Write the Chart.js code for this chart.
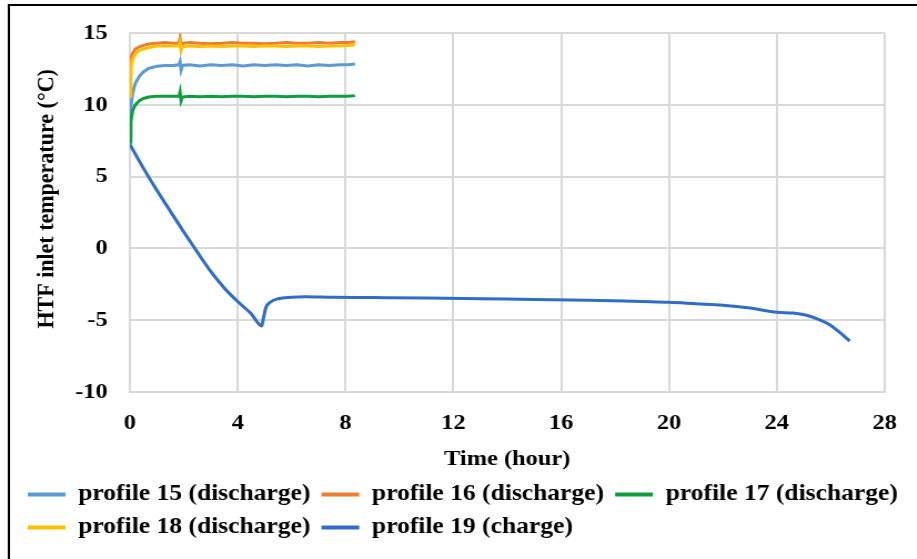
<!DOCTYPE html>
<html>
<head>
<meta charset="utf-8">
<script src="https://cdn.jsdelivr.net/npm/chart.js@4/dist/chart.umd.min.js"></script>
<style>
  html, body { margin: 0; padding: 0; background: #fff; overflow: hidden; }
  #wrap {
    position: relative;
    width: 826px;
    height: 559px;
    transform: scaleX(1.11);
    transform-origin: 0 0;
  }
</style>
</head>
<body>
<div id="wrap"><canvas id="tempChart"></canvas></div>
<script>
// time axis shared by the four discharge runs (hours)
const dischargeHours = [0, 0.03, 0.1, 0.2, 0.35, 0.5, 0.7, 1.0, 1.3, 1.6, 1.82, 1.86, 1.9, 1.95, 2.2, 2.6,
  3.0, 3.4, 3.8, 4.2, 4.6, 5.0, 5.4, 5.8, 6.2, 6.6, 7.0, 7.4, 7.8, 8.1, 8.35];

const profile15 = [7.8, 9.8, 10.8, 11.5, 12.0, 12.3, 12.55, 12.7, 12.75, 12.75, 12.8, 13.0, 12.45, 12.75, 12.8, 12.72,
  12.8, 12.75, 12.8, 12.72, 12.8, 12.75, 12.8, 12.75, 12.8, 12.72, 12.8, 12.75, 12.8, 12.8, 12.85];
const profile16 = [12.2, 13.2, 13.6, 13.9, 14.05, 14.15, 14.25, 14.3, 14.35, 14.3, 14.3, 14.65, 13.95, 14.3, 14.35, 14.3,
  14.27, 14.3, 14.35, 14.3, 14.3, 14.27, 14.3, 14.35, 14.3, 14.3, 14.35, 14.3, 14.35, 14.35, 14.4];
const profile17 = [7.4, 8.8, 9.6, 10.0, 10.3, 10.45, 10.55, 10.6, 10.6, 10.6, 10.6, 10.9, 10.3, 10.55, 10.6, 10.57,
  10.6, 10.57, 10.6, 10.6, 10.57, 10.6, 10.6, 10.57, 10.6, 10.6, 10.57, 10.6, 10.6, 10.6, 10.65];
const profile18 = [10.6, 12.6, 13.2, 13.55, 13.8, 13.9, 14.0, 14.1, 14.1, 14.1, 14.1, 14.35, 13.85, 14.05, 14.1, 14.07,
  14.1, 14.07, 14.1, 14.1, 14.07, 14.1, 14.1, 14.07, 14.1, 14.1, 14.07, 14.1, 14.1, 14.15, 14.2];

// charge run
const chargeHours = [0, 0.5, 1.0, 1.5, 2.0, 2.5, 3.0, 3.5, 4.0, 4.5, 4.89, 4.95, 5.05, 5.2, 5.5, 6.0, 6.5, 7.5,
  9, 11, 13, 15, 17, 19, 20, 21, 22, 23, 24, 24.6, 25.1, 25.5, 25.9, 26.3, 26.7];
const profile19 = [7.25, 5.6, 4.05, 2.6, 1.15, -0.25, -1.6, -2.75, -3.7, -4.55, -5.4, -4.9, -4.1, -3.75, -3.5, -3.4, -3.37, -3.4,
  -3.42, -3.45, -3.5, -3.55, -3.6, -3.7, -3.75, -3.85, -3.95, -4.15, -4.45, -4.5, -4.65, -4.9, -5.25, -5.8, -6.45];

const seriesNames = ['profile 15 (discharge)', 'profile 16 (discharge)', 'profile 17 (discharge)',
  'profile 18 (discharge)', 'profile 19 (charge)'];
const seriesColors = ['#5B9BD5', '#ED7D31', '#0F9D3F', '#FFC000', '#2F6DC6'];

const xTicks = [0, 4, 8, 12, 16, 20, 24, 28];
const yTicks = [-10, -5, 0, 5, 10, 15];

function toPoints(xs, ys) {
  return xs.map((x, i) => ({ x: x, y: ys[i] }));
}

const seriesData = [
  toPoints(dischargeHours, profile15),
  toPoints(dischargeHours, profile16),
  toPoints(dischargeHours, profile17),
  toPoints(dischargeHours, profile18),
  toPoints(chargeHours, profile19)
];

const serif = '"Liberation Serif"';
const gridColor = '#d9d9d9';

// white page + black frame on top and left edges
const frame = {
  id: 'frame',
  beforeDraw(chart) {
    const ctx = chart.ctx;
    ctx.save();
    ctx.fillStyle = '#fff';
    ctx.fillRect(0, 0, chart.width, chart.height);
    ctx.strokeStyle = '#000';
    ctx.lineWidth = 2;
    ctx.beginPath();
    ctx.moveTo(8, chart.height);
    ctx.lineTo(8, 5);
    ctx.lineTo(chart.width, 5);
    ctx.stroke();
    ctx.restore();
  }
};

function drawChart() {
  const ctx = document.getElementById('tempChart').getContext('2d');
  new Chart(ctx, {
    type: 'line',
    data: {
      datasets: seriesData.map((pts, i) => ({
        label: seriesNames[i],
        data: pts,
        borderColor: seriesColors[i],
        backgroundColor: seriesColors[i],
        borderWidth: 3,
        pointRadius: 0,
        fill: false,
        cubicInterpolationMode: i === 4 ? 'monotone' : 'default',
        order: 4 - i   // later series painted on top
      }))
    },
    options: {
      responsive: true,
      maintainAspectRatio: false,
      animation: false,
      layout: { padding: { left: 15, right: 0, top: 33, bottom: 10 } },
      plugins: {
        tooltip: { enabled: false },
        legend: {
          position: 'bottom',
          align: 'start',
          labels: {
            color: '#000',
            font: { family: serif, size: 23, weight: 'bold' },
            boxWidth: 34,
            boxHeight: 4,
            padding: 10,
            sort: (a, b) => a.datasetIndex - b.datasetIndex,
            generateLabels: chart => Chart.defaults.plugins.legend.labels.generateLabels(chart)
              .map(item => Object.assign(item, { lineWidth: 0 }))
          }
        }
      },
      scales: {
        x: {
          type: 'linear',
          min: 0,
          max: 28,
          afterBuildTicks: scale => { scale.ticks = xTicks.map(v => ({ value: v })); },
          afterFit: scale => { scale.height = 81; },
          grid: { color: gridColor, lineWidth: 2, drawTicks: false },
          border: { color: gridColor, width: 2 },
          ticks: { color: '#000', padding: 18, font: { family: serif, size: 22, weight: 'bold' } },
          title: {
            display: true,
            text: 'Time (hour)',
            color: '#000',
            font: { family: serif, size: 22, weight: 'bold' },
            padding: { top: 0, bottom: 0 }
          }
        },
        y: {
          min: -10,
          max: 15,
          afterBuildTicks: scale => { scale.ticks = yTicks.map(v => ({ value: v })); },
          afterFit: scale => { scale.width = 102; },
          grid: { color: gridColor, lineWidth: 2, drawTicks: false },
          border: { color: gridColor, width: 2 },
          ticks: { color: '#000', padding: 20, font: { family: serif, size: 22, weight: 'bold' } },
          title: {
            display: true,
            // leading spaces lift the rotated title a little above the axis centre
            text: '     HTF inlet temperature (°C)',
            color: '#000',
            font: { family: serif, size: 22, weight: 'bold' },
            padding: { top: 14, bottom: 0 }
          }
        },
        // empty right-hand strip, keeps the plot narrower while the legend uses the full width
        gutter: {
          type: 'linear',
          position: 'right',
          display: true,
          afterFit: scale => { scale.width = 25; },
          grid: { display: false },
          border: { display: false },
          ticks: { display: false }
        }
      }
    },
    plugins: [frame]
  });
}

document.fonts.load('bold 22px "Liberation Serif"').then(drawChart, drawChart);
</script>
</body>
</html>
